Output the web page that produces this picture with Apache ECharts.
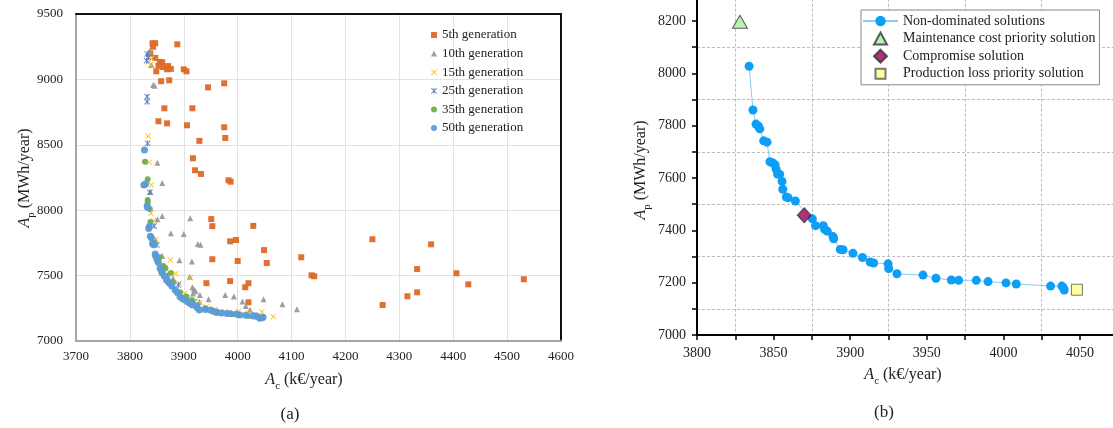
<!DOCTYPE html>
<html><head><meta charset="utf-8">
<script src="https://cdn.jsdelivr.net/npm/echarts@6/dist/echarts.min.js"></script>
<style>html,body{margin:0;padding:0;background:#fff}#c{width:1113px;height:428px}</style>
</head><body><div id="c"></div>
<script>
// ---------- Panel (a): generations ----------
const gen5 = [[3842,9276],[3847,9276],[3843,9250],[3888,9268],[3838,9199],[3847,9164],[3856,9133],[3860,9131],[3853,9105],[3861,9095],[3871,9102],[3876,9080],[3869,9077],[3900,9077],[3905,9062],[3849,9062],[3858,8986],[3873,8993],[3945,8939],[3975,8970],[3864,8779],[3916,8779],[3853,8680],[3869,8664],[3906,8649],[3975,8634],[3977,8552],[3929,8530],[3917,8397],[3921,8305],[3932,8277],[3983,8229],[3987,8218],[3951,7932],[3953,7878],[4029,7880],[3986,7762],[3997,7772],[4049,7695],[3953,7625],[4000,7612],[4054,7596],[3942,7442],[3986,7458],[4020,7442],[4014,7411],[4020,7296],[4118,7640],[4137,7502],[4142,7495],[4250,7778],[4269,7275],[4315,7342],[4333,7550],[4333,7372],[4359,7739],[4406,7518],[4428,7433],[4531,7472]];
const gen10 = [[3837,9219],[3835,9195],[3840,9110],[3843,8957],[3846,8952],[3851,8363],[3860,8207],[3838,8140],[3851,7930],[3860,7955],[3912,7938],[3876,7823],[3900,7818],[3926,7742],[3931,7736],[3892,7617],[3915,7608],[3911,7492],[3916,7410],[3919,7395],[3917,7363],[3922,7380],[3930,7352],[3929,7300],[3946,7319],[3977,7352],[3993,7340],[4009,7302],[4015,7268],[4023,7238],[4048,7319],[4083,7281],[4110,7242],[3848,7770],[3860,7650],[3880,7480]];
const gen15 = [[3835,9135],[3840,9161],[3838,9110],[3834,8567],[3836,8366],[3840,8193],[3839,7976],[3844,7920],[3847,7772],[3856,7650],[3875,7619],[3885,7515],[3891,7441],[3912,7484],[3902,7364],[3930,7290],[3942,7262],[3958,7240],[3976,7224],[4001,7225],[4020,7215],[4045,7222],[4066,7186],[3860,7560],[3870,7480],[3920,7300]];
const gen25 = [[3832,9194],[3831,9143],[3834,9170],[3832,8868],[3832,8830],[3833,8511],[3837,8137],[3850,7734],[3864,7556],[3890,7428],[3919,7300],[3960,7225],[4032,7199],[3845,7880],[3870,7500]];
const gen35 = [[3828,8371],[3833,8236],[3833,8078],[3833,8060],[3837,8009],[3838,7910],[3862,7573],[3866,7556],[3876,7520],[3893,7372],[3915,7313],[3961,7224],[4001,7199],[4020,7191],[3845,7750],[3855,7640],[3880,7450],[3905,7340],[3940,7250],[3990,7205]];
const gen50 = [[3827,8460],[3826,8193],[3829,8200],[3832,8032],[3833,8020],[3836,7874],[3835,7860],[3838,7800],[3840,7790],[3842,7746],[3844,7736],[3847,7665],[3848,7650],[3850,7630],[3851,7619],[3853,7600],[3856,7556],[3859,7530],[3860,7520],[3864,7495],[3868,7466],[3872,7450],[3874,7441],[3878,7420],[3884,7390],[3888,7370],[3893,7339],[3897,7325],[3902,7313],[3907,7300],[3911,7288],[3916,7275],[3925,7255],[3929,7237],[3924,7270],[3940,7240],[3949,7237],[3955,7228],[3961,7217],[3970,7215],[3980,7210],[3986,7211],[3998,7206],[4004,7199],[4015,7197],[4029,7191],[4036,7188],[4041,7173],[4047,7181],[4045,7178]];
const genNames = ['5th generation','10th generation','15th generation','25th generation','35th generation','50th generation'];

// ---------- Panel (b): Pareto front ----------
const paretoFront = [[3834,8027],[3836.5,7860],[3838.5,7806],[3840,7799],[3841,7788],[3843.5,7742],[3845.7,7737],[3847.6,7662],[3849.6,7657],[3851,7650],[3851.6,7634],[3852.6,7615],[3854,7614],[3855.5,7587],[3856,7557],[3858.3,7527],[3859.4,7525],[3864.2,7512],[3875.3,7444],[3877.4,7418],[3882.4,7418],[3883.3,7404],[3885,7397],[3888.8,7376],[3889.2,7368],[3893.5,7327],[3895.3,7326],[3901.8,7312],[3908,7296],[3913,7279],[3915.3,7275],[3924.7,7272],[3925.1,7254],[3930.5,7234],[3947.5,7229],[3956,7217],[3966,7210],[3970.8,7209],[3982.3,7209],[3990,7204],[4001.7,7199],[4008.4,7195],[4030.8,7187],[4038.2,7187],[4039.1,7181],[4039.7,7172]];
const maintenancePriority = [[3828,8197]];
const compromise = [[3870,7458]];
const productionPriority = [[4048,7173]];
const paretoNames = ['Non-dominated solutions','Maintenance cost priority solution','Compromise solution','Production loss priority solution'];

const FONT = 'Liberation Serif';
const xPath = 'path://M0,1L1,0L5,4L9,0L10,1L6,5L10,9L9,10L5,6L1,10L0,9L4,5Z';
const starPath = 'path://M0,1L1,0L5,4L9,0L10,1L6,5L10,9L9,10L5,6L1,10L0,9L4,5ZM4.3,0L5.7,0L5.7,10L4.3,10Z';
const genStyle = [
  {symbol:'rect', color:'#DD6A26', size:6},
  {symbol:'triangle', color:'#9a9a9a', size:6},
  {symbol:xPath, color:'#FFC000', size:6},
  {symbol:starPath, color:'#5577c4', size:6},
  {symbol:'circle', color:'#70AD47', size:6},
  {symbol:'circle', color:'#5B9BD5', size:7}
];
const genData = [gen5, gen10, gen15, gen25, gen35, gen50];

const chart = echarts.init(document.getElementById('c'), null, {renderer:'canvas'});

const series = genData.map((d,i)=>({
  type:'scatter', name:genNames[i], xAxisIndex:0, yAxisIndex:0, data:d,
  symbol:genStyle[i].symbol, symbolSize:genStyle[i].size,
  itemStyle:{color:genStyle[i].color, opacity:0.95}, z:2+i
}));
series.push({
  type:'line', name:paretoNames[0], xAxisIndex:2, yAxisIndex:2, data:paretoFront,
  symbol:'circle', symbolSize:9, showSymbol:true,
  lineStyle:{color:'#86cdf7', width:1}, itemStyle:{color:'#0d9ef5'}, z:3
});
series.push({
  type:'scatter', name:paretoNames[1], xAxisIndex:2, yAxisIndex:2, data:maintenancePriority,
  symbol:'triangle', symbolSize:[15,13], itemStyle:{color:'#a8f0a0', borderColor:'#333', borderWidth:1}, z:5
});
series.push({
  type:'scatter', name:paretoNames[2], xAxisIndex:2, yAxisIndex:2, data:compromise,
  symbol:'diamond', symbolSize:[14,15], itemStyle:{color:'#990055', borderColor:'#333', borderWidth:1}, z:5
});
series.push({
  type:'scatter', name:paretoNames[3], xAxisIndex:2, yAxisIndex:2, data:productionPriority,
  symbol:'rect', symbolSize:11, itemStyle:{color:'#ffff88', borderColor:'#555', borderWidth:1}, z:5
});

const titleRich = {
  a:{fontFamily:FONT, fontSize:16, fontStyle:'italic', lineHeight:24, fill:'#222'},
  s:{fontFamily:FONT, fontSize:11, lineHeight:13, verticalAlign:'bottom', fill:'#222'},
  t:{fontFamily:FONT, fontSize:16, lineHeight:24, fill:'#222'}
};
function title(x, y, sub, unit, rot){
  return {type:'text', x:x, y:y, rotation:rot||0, z:10,
    style:{text:'{a|A}{s|'+sub+'}{t| '+unit+'}', rich:titleRich, align:'center', verticalAlign:'middle', fill:'#222'}};
}
const plain = v => String(v);
const legendTri = 'path://M0,0M35,13M17.5,0.5L24,12.5L11,12.5Z';
const legendDia = 'path://M0,0M35,13M17.5,0L24,6.5L17.5,13L11,6.5Z';
const legendSq = 'path://M0,0M35,13M12.5,1.5L22.5,1.5L22.5,11.5L12.5,11.5Z';

const option = {
  animation:false,
  backgroundColor:'#fff',
  textStyle:{fontFamily:FONT},
  grid:[
    {left:76, top:14, width:485, height:327, outerBoundsMode:'none', containLabel:false},
    {left:697, top:-31.3, width:459.6, height:366.3, outerBoundsMode:'none', containLabel:false}
  ],
  xAxis:[
    {gridIndex:0, type:'value', min:3700, max:4600, interval:100,
     axisLine:{show:true, onZero:false, lineStyle:{color:'#a6a6a6', width:2}},
     axisTick:{show:false}, axisLabel:{color:'#222', fontSize:13, fontFamily:FONT, margin:9, formatter:plain},
     splitLine:{show:true, lineStyle:{color:'#e2e2e2', width:1}}},
    {gridIndex:0, type:'value', position:'top', min:3700, max:4600, interval:100,
     axisLine:{show:true, onZero:false, lineStyle:{color:'#111', width:2}},
     axisTick:{show:false}, axisLabel:{show:false}, splitLine:{show:false}},
    {gridIndex:1, type:'value', min:3800, max:4100, interval:50,
     axisLine:{show:true, onZero:false, lineStyle:{color:'#000', width:2}},
     axisTick:{show:true, length:5, lineStyle:{color:'#000', width:1.5}},
     minorTick:{show:true, splitNumber:2, length:5, lineStyle:{color:'#000', width:1.5}},
     axisLabel:{color:'#222', fontSize:14, fontFamily:FONT, margin:11, formatter:plain},
     splitLine:{show:false},
     minorSplitLine:{show:true, lineStyle:{color:'#bdbdbd', type:[3,2], width:1}}}
  ],
  yAxis:[
    {gridIndex:0, type:'value', min:7000, max:9500, interval:500,
     axisLine:{show:true, onZero:false, lineStyle:{color:'#a6a6a6', width:2}},
     axisTick:{show:false}, axisLabel:{color:'#222', fontSize:13, fontFamily:FONT, margin:13, formatter:plain},
     splitLine:{show:true, lineStyle:{color:'#e2e2e2', width:1}}},
    {gridIndex:0, type:'value', position:'right', min:7000, max:9500, interval:500,
     axisLine:{show:true, onZero:false, lineStyle:{color:'#111', width:2}},
     axisTick:{show:false}, axisLabel:{show:false}, splitLine:{show:false}},
    {gridIndex:1, type:'value', min:7000, max:8400, interval:200,
     axisLine:{show:true, onZero:false, lineStyle:{color:'#000', width:2}},
     axisTick:{show:true, length:5, lineStyle:{color:'#000', width:1.5}},
     minorTick:{show:true, splitNumber:2, length:5, lineStyle:{color:'#000', width:1.5}},
     axisLabel:{color:'#222', fontSize:14, fontFamily:FONT, margin:11, formatter:plain},
     splitLine:{show:false},
     minorSplitLine:{show:true, lineStyle:{color:'#bdbdbd', type:[3,2], width:1}}}
  ],
  legend:[
    {data:genNames, orient:'vertical', left:431, top:27, padding:0,
     itemWidth:6, itemHeight:6, itemGap:2.6,
     textStyle:{fontFamily:FONT, fontSize:13, color:'#222', lineHeight:16}},
    {data:[
       {name:paretoNames[0]},
       {name:paretoNames[1], icon:legendTri},
       {name:paretoNames[2], icon:legendDia},
       {name:paretoNames[3], icon:legendSq}
     ], orient:'vertical', left:861, top:10, padding:[3,4,3,1],
     itemWidth:35, itemHeight:13, itemGap:1.6,
     borderColor:'#888', borderWidth:1, backgroundColor:'#fff',
     textStyle:{fontFamily:FONT, fontSize:14, color:'#222', lineHeight:16}}
  ],
  graphic:[
    title(25, 178, 'p', '(MWh/year)', Math.PI/2),
    title(304, 380, 'c', '(k€/year)'),
    title(641, 170, 'p', '(MWh/year)', Math.PI/2),
    title(903, 375, 'c', '(k€/year)'),
    {type:'text', x:290, y:415, style:{text:'(a)', font:'17px "Liberation Serif"', fill:'#222', align:'center', verticalAlign:'middle'}},
    {type:'text', x:884, y:413, style:{text:'(b)', font:'17px "Liberation Serif"', fill:'#222', align:'center', verticalAlign:'middle'}}
  ],
  series:series
};
chart.setOption(option);
</script>
</body></html>
